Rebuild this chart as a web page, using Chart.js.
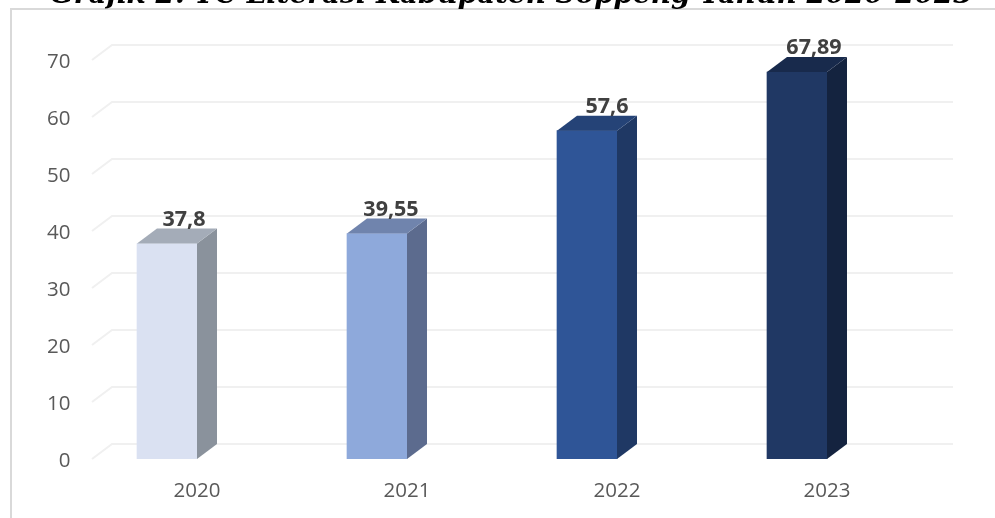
<!DOCTYPE html>
<html>
<head>
<meta charset="utf-8">
<script src="https://cdn.jsdelivr.net/npm/chart.js@4"></script>
<style>
  html, body { margin: 0; padding: 0; background: #fff; overflow: hidden; }
  #wrap { position: relative; width: 995px; height: 518px; }
  canvas { display: block; }
</style>
</head>
<body>
<div id="wrap"><canvas id="chart" width="995" height="518"></canvas></div>
<script>
const years = ['2020', '2021', '2022', '2023'];
const values = [37.8, 39.55, 57.6, 67.89];
const valueLabels = ['37,8', '39,55', '57,6', '67,89'];
const yTicks = [0, 10, 20, 30, 40, 50, 60, 70];
const frontColors = ['#DAE1F2', '#8EA9DB', '#2F5597', '#203864'];
const sideColors = ['#8A929C', '#5C6B8E', '#1F3864', '#14233F'];
const topColors = ['#A4ACB8', '#7084AD', '#254377', '#182A4C'];
const titleText = 'Grafik 2. TC Literasi Kabupaten Soppeng Tahun 2020-2023';

const depthX = 20;
const depthY = 15;
const labelShift = [17, 14, 20, 17]; // labels sit a bit right of the bar

// back wall gridlines and the little diagonal going to the front
const wallGrid = {
  id: 'wallGrid',
  beforeDatasetsDraw(chart) {
    const ctx = chart.ctx;
    const y = chart.scales.y;
    ctx.save();
    ctx.strokeStyle = '#F0F0F0';
    ctx.lineWidth = 2;
    yTicks.forEach(v => {
      const py = y.getPixelForValue(v);
      ctx.beginPath();
      ctx.moveTo(92, py);
      ctx.lineTo(92 + depthX, py - depthY);
      ctx.lineTo(953, py - depthY);
      ctx.stroke();
    });
    ctx.restore();
  }
};

// sides and tops of the bars, values come from the bar elements
const bar3d = {
  id: 'bar3d',
  afterDatasetsDraw(chart) {
    const ctx = chart.ctx;
    const bars = chart.getDatasetMeta(0).data;
    const base = chart.scales.y.getPixelForValue(0);
    ctx.save();
    bars.forEach((b, i) => {
      const r = b.x + b.width / 2;
      const l = b.x - b.width / 2;
      ctx.fillStyle = sideColors[i];
      ctx.beginPath();
      ctx.moveTo(r, b.y);
      ctx.lineTo(r + depthX, b.y - depthY);
      ctx.lineTo(r + depthX, base - depthY);
      ctx.lineTo(r, base);
      ctx.closePath();
      ctx.fill();
      ctx.fillStyle = topColors[i];
      ctx.beginPath();
      ctx.moveTo(l, b.y);
      ctx.lineTo(l + depthX, b.y - depthY);
      ctx.lineTo(r + depthX, b.y - depthY);
      ctx.lineTo(r, b.y);
      ctx.closePath();
      ctx.fill();
      ctx.fillStyle = '#404040';
      ctx.font = 'bold 21.5px "Open Sans"';
      ctx.textAlign = 'center';
      ctx.textBaseline = 'middle';
      ctx.fillText(valueLabels[i], b.x + labelShift[i], b.y - 24);
    });
    ctx.restore();
  }
};

// frame of the pasted chart plus the cut-off caption above it
const frame = {
  id: 'frame',
  afterDraw(chart) {
    const ctx = chart.ctx;
    ctx.save();
    ctx.strokeStyle = '#D9D9D9';
    ctx.lineWidth = 2;
    ctx.beginPath();
    ctx.moveTo(11, 518);
    ctx.lineTo(11, 9);
    ctx.lineTo(995, 9);
    ctx.stroke();
    ctx.fillStyle = '#000';
    ctx.font = 'italic bold 27.8px "DejaVu Serif"';
    ctx.textAlign = 'left';
    ctx.textBaseline = 'alphabetic';
    ctx.fillText(titleText, 50, 3);
    ctx.restore();
  }
};

new Chart(document.getElementById('chart'), {
  type: 'bar',
  data: {
    labels: years,
    datasets: [{
      data: values,
      backgroundColor: frontColors,
      borderWidth: 0,
      barThickness: 60
    }]
  },
  options: {
    responsive: false,
    animation: false,
    layout: { padding: { left: 0, right: 93, top: 60, bottom: 0 } },
    plugins: { legend: { display: false }, tooltip: { enabled: false } },
    scales: {
      x: {
        grid: { display: false },
        border: { display: false },
        ticks: { color: '#595959', font: { family: 'Open Sans', size: 20.5 }, padding: 12, maxRotation: 0, labelOffset: 30 },
        afterFit(s) { s.height = 59; }
      },
      y: {
        min: 0,
        max: 70,
        grid: { display: false, drawTicks: false },
        border: { display: false },
        ticks: { color: '#595959', font: { family: 'Open Sans', size: 20.5 }, mirror: true, crossAlign: 'far', padding: -15, labelOffset: 2, stepSize: 10 },
        afterFit(s) { s.width = 62; }
      }
    }
  },
  plugins: [wallGrid, bar3d, frame]
});
</script>
</body>
</html>
